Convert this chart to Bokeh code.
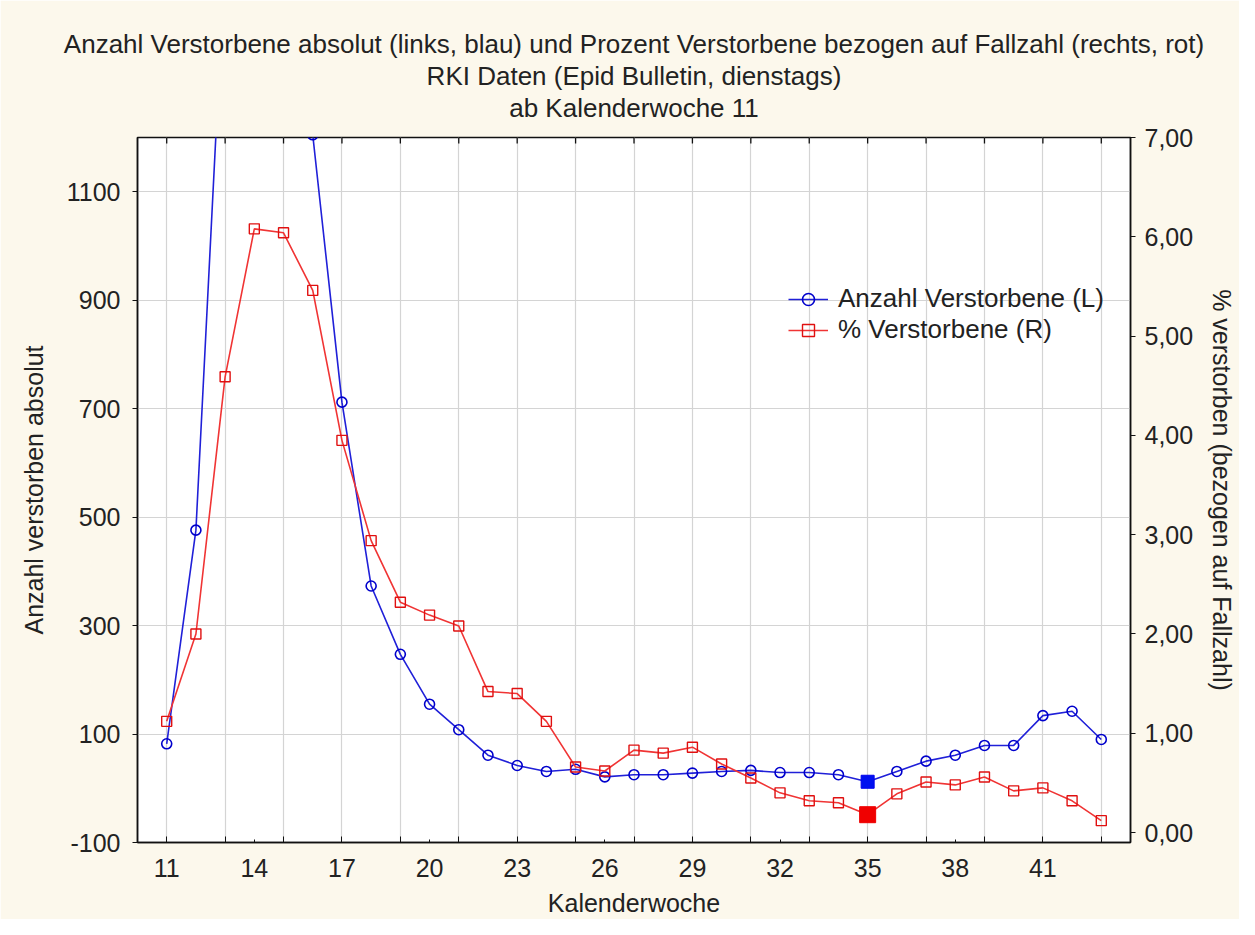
from bokeh.plotting import figure
from bokeh.models import (Range1d, LinearAxis, FixedTicker, Title, Legend, LegendItem)
from bokeh.embed import file_html
from bokeh.resources import INLINE

# ---------------- data ----------------
weeks = list(range(11, 44))
deaths_abs = [82, 476, 1540, 1800, 1700, 1205, 712, 373, 247, 155, 108, 61, 42, 31, 35, 21,
              25, 25, 28, 31, 33, 29, 29, 25, 12, 31, 50, 61, 79, 79, 134, 142, 90]
deaths_pct = [1.12, 2.00, 4.59, 6.08, 6.04, 5.46, 3.95, 2.94, 2.32, 2.19, 2.08, 1.42, 1.40,
              1.12, 0.66, 0.62, 0.83, 0.80, 0.86, 0.69, 0.55, 0.40, 0.32, 0.30, 0.18, 0.39,
              0.51, 0.48, 0.56, 0.42, 0.45, 0.32, 0.12]
highlight_week = 35
x_label_ticks = [11, 14, 17, 20, 23, 26, 29, 32, 35, 38, 41]
x_grid_ticks = list(range(11, 44, 2))
left_ticks = [-100, 100, 300, 500, 700, 900, 1100]
right_ticks = [0, 1, 2, 3, 4, 5, 6, 7]

title_lines = ["Anzahl Verstorbene absolut (links, blau) und Prozent Verstorbene bezogen auf Fallzahl (rechts, rot)",
               "RKI Daten (Epid Bulletin, dienstags)",
               "ab Kalenderwoche 11"]

FONT = "Liberation Sans"
TXT = "#222222"
CREAM = "#fcf8ec"
BLUE_L = "#2020d8"
BLUE_M = "#0000cc"
RED_L = "#f03434"
RED_M = "#e01010"

p = figure(width=1239, height=919, output_backend="svg", toolbar_location=None,
           x_range=Range1d(10, 44), y_range=Range1d(-100, 1200),
           min_border_left=137, min_border_right=106, min_border_top=137, min_border_bottom=74)
p.extra_y_ranges = {"pct": Range1d(-0.1, 7.0)}
p.border_fill_color = CREAM
p.background_fill_color = "white"
p.outline_line_color = "#111111"
p.outline_line_width = 1.5

xa = p.below[0]
ya = p.left[0]

# three centred title lines (innermost added first); standoffs tuned for 32px line spacing
title_standoffs = [30, -30, 30]   # innermost (last line) first
for t, s in zip(reversed(title_lines), title_standoffs):
    p.add_layout(Title(text=t, align="center", text_font=FONT, text_font_size="26px",
                       text_font_style="normal", text_color=TXT, standoff=s), "above")

# axes
xa.ticker = FixedTicker(ticks=x_label_ticks, minor_ticks=x_grid_ticks)
xa.major_tick_in = 3
xa.major_tick_out = 0
xa.minor_tick_in = 6
xa.minor_tick_out = 0
xa.axis_label = "Kalenderwoche"

ya.ticker = FixedTicker(ticks=left_ticks, minor_ticks=[])
ya.major_tick_in = 0
ya.major_tick_out = 5
ya.major_label_overrides = {t: str(t) for t in left_ticks}
ya.axis_label = "Anzahl verstorben absolut"

ra = LinearAxis(y_range_name="pct",
                ticker=FixedTicker(ticks=right_ticks, minor_ticks=[]),
                major_label_overrides={t: f"{t:.2f}".replace(".", ",") for t in right_ticks},
                axis_label="% verstorben (bezogen auf Fallzahl)")
ra.major_tick_in = 0
ra.major_tick_out = 5
p.add_layout(ra, "right")

for ax in [xa, ya, ra]:
    ax.axis_line_color = "#111111"
    ax.axis_line_width = 1.5
    ax.major_tick_line_color = "#111111"
    ax.minor_tick_line_color = "#111111"
    ax.major_label_text_font = FONT
    ax.major_label_text_color = TXT
    ax.major_label_text_font_size = "25px"
    ax.axis_label_text_font = FONT
    ax.axis_label_text_font_style = "normal"
    ax.axis_label_text_color = TXT
    ax.axis_label_text_font_size = "25px"
xa.major_label_standoff = 16
xa.axis_label_standoff = 9
ya.major_label_standoff = 12
ya.axis_label_standoff = 16
ra.major_label_standoff = 9
ra.axis_label_standoff = 12

p.xgrid.ticker = FixedTicker(ticks=x_grid_ticks, minor_ticks=[])
p.ygrid.ticker = FixedTicker(ticks=left_ticks, minor_ticks=[])
for g in [p.xgrid[0], p.ygrid[0]]:
    g.grid_line_color = "#d4d4d4"
    g.grid_line_width = 1.2

# inward tick marks on the top frame edge (at the grid positions)
top = p.y_range.end
tick_len = 11  # in data units of the left axis (~6 px)
p.segment(x0=x_grid_ticks, x1=x_grid_ticks, y0=[top] * len(x_grid_ticks),
          y1=[top - tick_len] * len(x_grid_ticks), line_color="#111111", line_width=1.3)

# data renderers
bl = p.line(weeks, deaths_abs, line_color=BLUE_L, line_width=1.6)
bm = p.scatter(weeks, deaths_abs, marker="circle", size=10, line_color=BLUE_M,
               fill_color="white", fill_alpha=0, line_width=1.6)
rl = p.line(weeks, deaths_pct, line_color=RED_L, line_width=1.6, y_range_name="pct")
rm = p.scatter(weeks, deaths_pct, marker="square", size=10, line_color=RED_M,
               fill_color="white", fill_alpha=0, line_width=1.4, y_range_name="pct")

hi = weeks.index(highlight_week)
p.scatter([weeks[hi]], [deaths_abs[hi]], marker="square", size=13, line_color="#0000ee",
          fill_color="#0010f0", line_width=1)
p.scatter([weeks[hi]], [deaths_pct[hi]], marker="square", size=16, line_color="#ee0000",
          fill_color="#f00000", line_width=1, y_range_name="pct")

legend = Legend(items=[LegendItem(label="Anzahl Verstorbene (L)", renderers=[bl, bm]),
                       LegendItem(label="% Verstorbene (R)", renderers=[rl, rm])],
                location=(651, 497), background_fill_alpha=0, border_line_alpha=0,
                label_text_font=FONT, label_text_font_size="26px", label_text_color=TXT,
                glyph_width=40, glyph_height=30, label_height=30, spacing=0, padding=0,
                margin=0, label_standoff=10)
p.add_layout(legend, "center")

open("out.html", "w").write(file_html(p, INLINE))
